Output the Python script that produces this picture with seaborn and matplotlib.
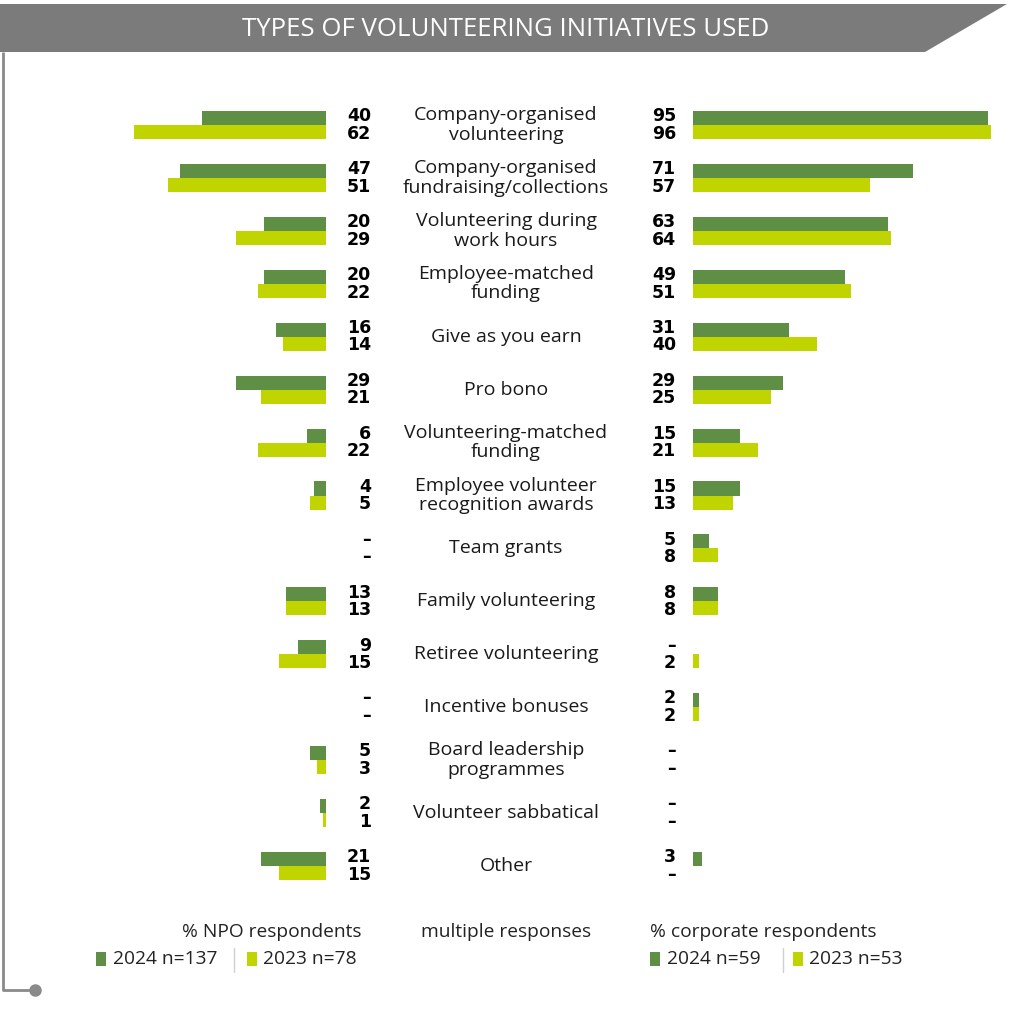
import matplotlib
matplotlib.use('Agg')
import matplotlib.pyplot as plt
import pandas as pd
import seaborn as sns
import numpy as np
from matplotlib.patches import Polygon, Rectangle
from matplotlib.transforms import blended_transform_factory

# Data (None = no response shown as a dash)
categories = [
    'Company-organised\nvolunteering',
    'Company-organised\nfundraising/collections',
    'Volunteering during\nwork hours',
    'Employee-matched\nfunding',
    'Give as you earn',
    'Pro bono',
    'Volunteering-matched\nfunding',
    'Employee volunteer\nrecognition awards',
    'Team grants',
    'Family volunteering',
    'Retiree volunteering',
    'Incentive bonuses',
    'Board leadership\nprogrammes',
    'Volunteer sabbatical',
    'Other',
]
npo_2024 = [40, 47, 20, 20, 16, 29, 6, 4, None, 13, 9, None, 5, 2, 21]
npo_2023 = [62, 51, 29, 22, 14, 21, 22, 5, None, 13, 15, None, 3, 1, 15]
corp_2024 = [95, 71, 63, 49, 31, 29, 15, 15, 5, 8, None, 2, None, None, 3]
corp_2023 = [96, 57, 64, 51, 40, 25, 21, 13, 8, 8, 2, 2, None, None, None]
years = ['2024', '2023']

title = 'TYPES OF VOLUNTEERING INITIATIVES USED'
npo_label = '% NPO respondents'
mid_label = 'multiple responses'
corp_label = '% corporate respondents'
npo_legend = ['2024 n=137', '2023 n=78']
corp_legend = ['2024 n=59', '2023 n=53']

DARK = '#5e8f45'
LIME = '#c0d400'
GREY = '#7b7b7b'
palette = {'2024': DARK, '2023': LIME}


def long_form(v24, v23):
    rows = []
    for c, a, b in zip(categories, v24, v23):
        rows.append({'cat': c, 'year': '2024', 'value': np.nan if a is None else a})
        rows.append({'cat': c, 'year': '2023', 'value': np.nan if b is None else b})
    return pd.DataFrame(rows)


df_npo = long_form(npo_2024, npo_2023)
df_corp = long_form(corp_2024, corp_2023)

sns.set_theme(style='white')
plt.rcParams['font.family'] = ['Open Sans', 'DejaVu Sans']

W, H = 1010, 1024
fig = plt.figure(figsize=(W / 100, H / 100), dpi=100)

# background axes in pixel coordinates for decoration
bg = fig.add_axes([0, 0, 1, 1])
bg.set_xlim(0, W)
bg.set_ylim(H, 0)
bg.axis('off')

# header band with slanted right end
bg.add_patch(Polygon([(0, 4), (1007, 4), (925, 52), (0, 52)], closed=True,
                     facecolor=GREY, edgecolor='none'))
bg.text(506, 29, title, color='white', ha='center', va='center', fontsize=18.5)

# left frame line with dot
bg.plot([3, 3, 35], [52, 990, 990], color='#8a8a8a', lw=2, solid_capstyle='butt')
bg.plot([35], [990], 'o', color='#8a8a8a', ms=8)

# bar axes
px_per_unit = 3.1
n = len(categories)
row0, row_step = 125, 52.93
top_px = row0 - row_step / 2
bot_px = row0 + (n - 1) * row_step + row_step / 2

left_x0, left_x1 = 40, 326
right_x0, right_x1 = 693, 1005

axL = fig.add_axes([left_x0 / W, 1 - bot_px / H, (left_x1 - left_x0) / W, (bot_px - top_px) / H])
axR = fig.add_axes([right_x0 / W, 1 - bot_px / H, (right_x1 - right_x0) / W, (bot_px - top_px) / H])

bar_kw = dict(y='cat', x='value', hue='year', hue_order=years, order=categories,
              palette=palette, orient='h', width=0.53, legend=False, saturation=1,
              linewidth=0, edgecolor='none')
sns.barplot(data=df_npo, ax=axL, **bar_kw)
sns.barplot(data=df_corp, ax=axR, **bar_kw)

axL.set_xlim((left_x1 - left_x0) / px_per_unit, 0)
axR.set_xlim(0, (right_x1 - right_x0) / px_per_unit)
for ax in (axL, axR):
    ax.set_ylim(n - 0.5, -0.5)
    ax.axis('off')
    ax.patch.set_alpha(0)

# value labels and category labels, x in pixels, y in category units
trL = blended_transform_factory(bg.transData, axL.transData)
off = 0.165
num_kw = dict(ha='right', va='center', fontsize=12.5, fontweight='bold', color='black',
              family=['DejaVu Sans'])


def fmt(v):
    return '–' if v is None else str(v)


for i, c in enumerate(categories):
    bg.text(371, i - off, fmt(npo_2024[i]), transform=trL, **num_kw)
    bg.text(371, i + off, fmt(npo_2023[i]), transform=trL, **num_kw)
    bg.text(676, i - off, fmt(corp_2024[i]), transform=trL, **num_kw)
    bg.text(676, i + off, fmt(corp_2023[i]), transform=trL, **num_kw)
    bg.text(506, i, c, transform=trL, ha='center', va='center', fontsize=14,
            color='#1a1a1a', linespacing=1.1)

# footer legend
txt_kw = dict(va='center', fontsize=13.8, color='#222222')
bg.text(362, 932, npo_label, ha='right', **txt_kw)
bg.text(506, 932, mid_label, ha='center', **txt_kw)
bg.text(650, 932, corp_label, ha='left', **txt_kw)


def legend_row(xs, labels, sep_x):
    for (sx, tx), lab, col in zip(xs, labels, [DARK, LIME]):
        bg.add_patch(Rectangle((sx, 952), 10, 14, facecolor=col, edgecolor='none'))
        bg.text(tx, 959, lab, ha='left', va='center', fontsize=13.8, color='#222222')
    bg.plot([sep_x, sep_x], [948, 972], color='#d0d0d0', lw=1)


legend_row([(96, 113), (247, 263)], npo_legend, 234)
legend_row([(650, 667), (793, 809)], corp_legend, 783)

fig.savefig('out.png', dpi=100)
